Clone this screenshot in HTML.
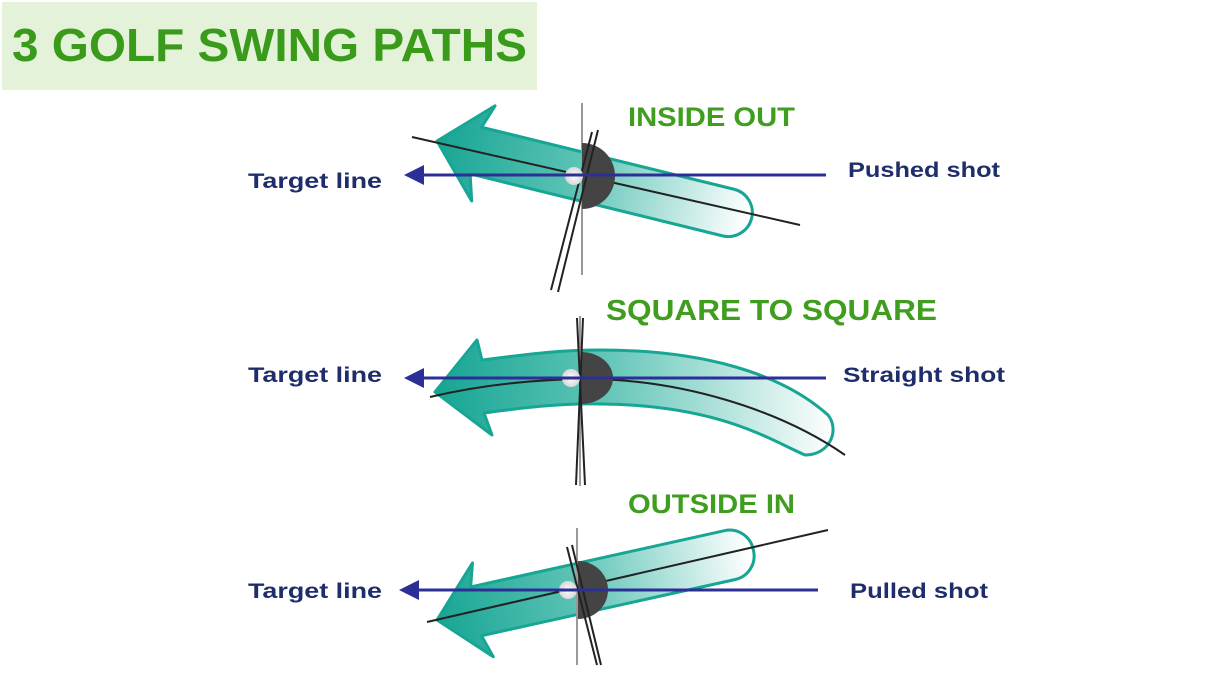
<!DOCTYPE html>
<html><head><meta charset="utf-8"><style>
html,body{margin:0;padding:0;background:#fff;}
svg{display:block;}
</style></head><body>
<svg width="1218" height="684" viewBox="0 0 1218 684" xmlns="http://www.w3.org/2000/svg">
<defs>
<linearGradient id="g1" gradientUnits="userSpaceOnUse" x1="0" y1="0" x2="320" y2="0">
<stop offset="0" stop-color="#17a594"/><stop offset="0.45" stop-color="#5cc3b5"/><stop offset="1" stop-color="#ffffff"/></linearGradient>
<linearGradient id="g2" gradientUnits="userSpaceOnUse" x1="437" y1="0" x2="835" y2="0">
<stop offset="0" stop-color="#17a594"/><stop offset="0.4" stop-color="#5cc3b5"/><stop offset="1" stop-color="#ffffff"/></linearGradient>
<radialGradient id="ball"><stop offset="0" stop-color="#fff"/><stop offset="1" stop-color="#d8d8d8"/></radialGradient>
</defs>
<rect x="2" y="2" width="535" height="88" fill="#e4f2d9"/>
<text x="12" y="61" font-family="Liberation Sans, sans-serif" font-weight="bold" font-size="46" fill="#3a9a1a" textLength="515" lengthAdjust="spacingAndGlyphs">3 GOLF SWING PATHS</text>

<g font-family="Liberation Sans, sans-serif" font-weight="bold">
<text x="628" y="126" font-size="27" fill="#3f9e1e" textLength="167" lengthAdjust="spacingAndGlyphs">INSIDE OUT</text>
<text x="606" y="320" font-size="29" fill="#3f9e1e" textLength="331" lengthAdjust="spacingAndGlyphs">SQUARE TO SQUARE</text>
<text x="628" y="513" font-size="27" fill="#3f9e1e" textLength="167" lengthAdjust="spacingAndGlyphs">OUTSIDE IN</text>
<g font-size="21" fill="#1f2d6b">
<text x="248" y="188" textLength="134" lengthAdjust="spacingAndGlyphs">Target line</text>
<text x="248" y="382" textLength="134" lengthAdjust="spacingAndGlyphs">Target line</text>
<text x="248" y="598" textLength="134" lengthAdjust="spacingAndGlyphs">Target line</text>
<text x="848" y="177" textLength="152" lengthAdjust="spacingAndGlyphs">Pushed shot</text>
<text x="843" y="382" textLength="162" lengthAdjust="spacingAndGlyphs">Straight shot</text>
<text x="850" y="598" textLength="138" lengthAdjust="spacingAndGlyphs">Pulled shot</text>
</g></g>

<!-- TOP -->
<g transform="translate(437,141) rotate(13.8)">
<path d="M0,0 L48,-48 L40,-24 L300,-24 A24,24 0 0 1 324,0 L324,0 A24,24 0 0 1 300,24 L40,24 L48,50 Z" fill="url(#g1)" stroke="#17a594" stroke-width="3" stroke-linejoin="round"/>
</g>
<line x1="412" y1="137" x2="800" y2="225" stroke="#222" stroke-width="2"/>
<line x1="582" y1="103" x2="582" y2="275" stroke="#999" stroke-width="2"/>
<path d="M582,143 A33,33 0 0 1 582,209 Z" fill="#444"/>
<line x1="598" y1="130" x2="558" y2="292" stroke="#222" stroke-width="2"/>
<line x1="592" y1="132" x2="551" y2="290" stroke="#222" stroke-width="2"/>
<circle cx="574" cy="176" r="9" fill="url(#ball)"/>
<line x1="415" y1="175" x2="826" y2="175" stroke="#2c2f95" stroke-width="3"/>
<path d="M404,175 L424,165 L424,185 Z" fill="#2c2f95"/>

<!-- MIDDLE -->
<path d="M435,392 L477,340 L482,360 C530,354 560,350 600,350 C700,350 780,372 828,415 C840,430 830,455 805,455 C770,440 720,405 600,404 C560,403 520,408 484,413 L492,435 Z" fill="url(#g2)" stroke="#17a594" stroke-width="3" stroke-linejoin="round"/>
<path d="M430,397 C480,385 530,380 580,379 C680,378 780,410 845,455" fill="none" stroke="#222" stroke-width="2"/>
<line x1="580" y1="316" x2="580" y2="486" stroke="#999" stroke-width="2"/>
<path d="M581,352 A32,26 0 0 1 581,404 Z" fill="#444"/>
<line x1="577" y1="318" x2="585" y2="485" stroke="#222" stroke-width="2"/>
<line x1="583" y1="318" x2="576" y2="485" stroke="#222" stroke-width="2"/>
<circle cx="571" cy="378" r="9" fill="url(#ball)"/>
<line x1="415" y1="378" x2="826" y2="378" stroke="#2c2f95" stroke-width="3"/>
<path d="M404,378 L424,368 L424,388 Z" fill="#2c2f95"/>

<!-- BOTTOM -->
<g transform="translate(437,620) rotate(-12.5)">
<path d="M0,0 L47,-48 L40,-25 L300,-25 A24,24 0 0 1 324,-1 L324,1 A24,24 0 0 1 300,25 L40,25 L47,48 Z" fill="url(#g1)" stroke="#17a594" stroke-width="3" stroke-linejoin="round"/>
</g>
<line x1="427" y1="622" x2="828" y2="530" stroke="#222" stroke-width="2"/>
<line x1="577" y1="528" x2="577" y2="665" stroke="#999" stroke-width="2"/>
<path d="M578,561 A30,29 0 0 1 578,619 Z" fill="#444"/>
<line x1="567" y1="547" x2="597" y2="665" stroke="#222" stroke-width="2"/>
<line x1="572" y1="545" x2="601" y2="665" stroke="#222" stroke-width="2"/>
<circle cx="568" cy="590" r="9" fill="url(#ball)"/>
<line x1="410" y1="590" x2="818" y2="590" stroke="#2c2f95" stroke-width="3"/>
<path d="M399,590 L419,580 L419,600 Z" fill="#2c2f95"/>
</svg>
</body></html>
